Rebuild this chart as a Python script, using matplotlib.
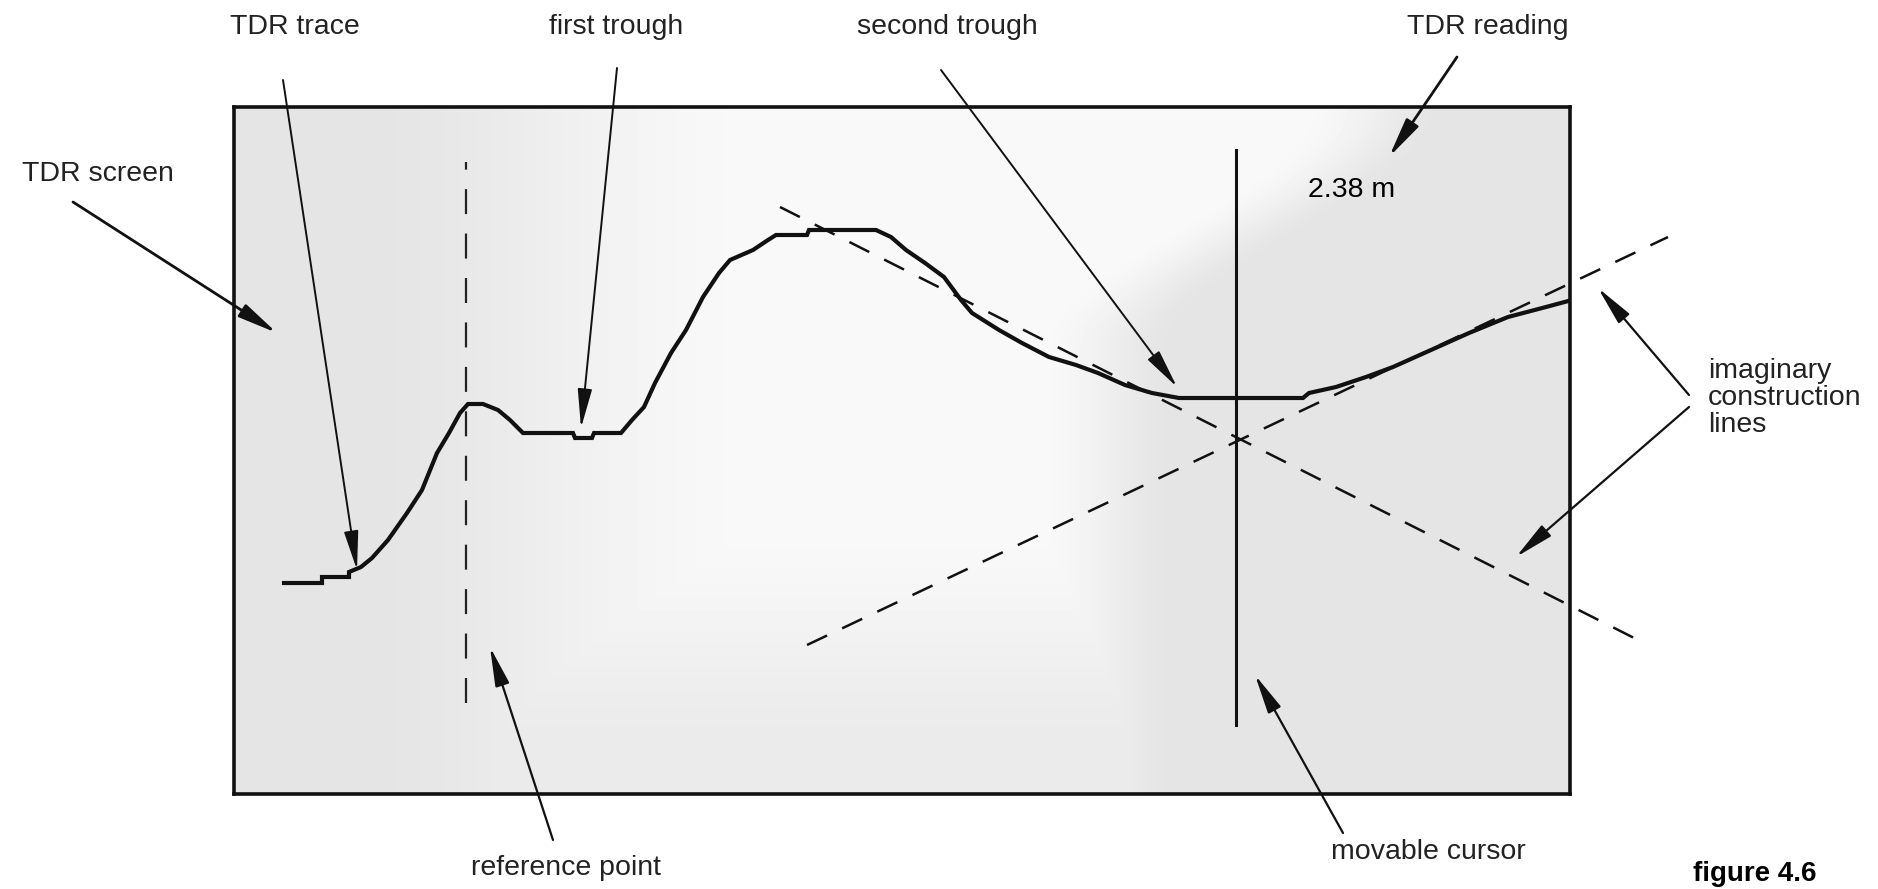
import numpy as np
import matplotlib
matplotlib.use("Agg")
import matplotlib.pyplot as plt

plt.rcParams["font.family"] = ["Liberation Sans", "DejaVu Sans"]
plt.rcParams["lines.scale_dashes"] = False

# TDR trace, in screen dots (x from left edge, y from bottom edge)
trace_x = [50, 88, 88, 115, 115, 127, 138, 154, 173, 188, 203, 215, 226, 234, 249,
           264, 276, 289, 339, 341, 358, 360, 387, 398, 410, 421, 437, 452, 469, 485,
           496, 519, 534, 542, 573, 575, 642, 657, 672, 691, 710, 727, 738, 765, 788,
           815, 842, 864, 891, 918, 945, 1069, 1075, 1102, 1132, 1159, 1197, 1235,
           1274, 1312, 1338]
trace_y = [211, 211, 217, 217, 222, 227, 236, 254, 281, 304, 341, 361, 381, 390, 390,
           384, 374, 361, 361, 356, 356, 361, 361, 374, 387, 411, 441, 464, 497, 521,
           534, 544, 554, 559, 559, 564, 564, 557, 544, 531, 517, 494, 481, 464, 451,
           437, 429, 421, 409, 401, 396, 396, 401, 407, 417, 427, 444, 461,
           477, 487, 494]

screen_w, screen_h = 1336, 687
ref_x = 232
ref_span = [91, 632]
cursor_x = 1002
cursor_span = [69, 644]
falling_line = ([546, 1414], [587, 149])
rising_line = ([573, 1434], [149, 557])
reading = "2.38 m"

# labels: text, text position, arrow tail, arrow head, shaft width (figure pixels)
labels = [
    ("TDR trace", (295, 27), (283, 80), (357, 570), 1.4),
    ("first trough", (616, 27), (617, 68), (581, 428), 1.4),
    ("second trough", (947, 27), (941, 70), (1177, 387), 1.4),
    ("TDR reading", (1488, 27), (1457, 57), (1389, 157), 2.0),
    ("TDR screen", (98, 174), (73, 202), (277, 333), 2.0),
    ("reference point", (566, 868), (553, 840), (490, 647), 1.6),
    ("movable cursor", (1428, 852), (1343, 833), (1255, 675), 1.6),
]
construction_label = "imaginary\nconstruction\nlines"
construction_arrows = [((1689, 395), (1598, 288)), ((1689, 407), (1516, 557))]

W, H = 1878, 889
fig = plt.figure(figsize=(W / 100, H / 100), dpi=100)

# the TDR screen
scr = fig.add_axes([234 / W, (H - 794) / H, screen_w / W, screen_h / H])
gx = np.linspace(0, 1, 400)
gy = np.linspace(0, 1, 200)
X, Y = np.meshgrid(gx, gy)


def ramp(v, a, b):
    t = np.clip((v - a) / (b - a), 0, 1)
    return t * t * (3 - 2 * t)


edge = 0.66 + 0.2 * ramp(Y, 0.65, 1.0)
left_dark = 1 - ramp(X, 0.08, 0.4)
right_dark = ramp(X, edge - 0.06, edge + 0.05)
bottom_dark = 1 - ramp(Y, 0.05, 0.4)
dark = np.maximum.reduce([left_dark, right_dark, 0.7 * bottom_dark])
shade = 0.975 - 0.08 * dark
scr.imshow(shade, cmap="gray", vmin=0, vmax=1, origin="lower", aspect="auto",
           extent=[0, screen_w, 0, screen_h], interpolation="bilinear", zorder=0)
scr.set_xlim(0, screen_w)
scr.set_ylim(0, screen_h)
scr.set_xticks([])
scr.set_yticks([])
for sp in scr.spines.values():
    sp.set_linewidth(2.6)
    sp.set_color("#111111")

scr.plot(trace_x, trace_y, color="#111111", lw=3.0, solid_joinstyle="miter", zorder=5)
scr.plot([ref_x, ref_x], ref_span, color="#222222", lw=1.6,
         linestyle=(0, (18, 14)), zorder=4)
scr.plot([cursor_x, cursor_x], cursor_span, color="#111111", lw=2.2, zorder=4)
for xs, ys in (falling_line, rising_line):
    scr.plot(xs, ys, color="#111111", lw=1.8, linestyle=(0, (16, 12)),
             clip_on=False, zorder=4)

# annotation layer in figure pixels
ov = fig.add_axes([0, 0, 1, 1], facecolor="none")
ov.set_xlim(0, W)
ov.set_ylim(H, 0)
ov.axis("off")


def arrow_props(lw):
    return dict(arrowstyle="-|>,head_length=1.2,head_width=0.22", color="#111111",
                lw=lw, shrinkA=0, shrinkB=0, mutation_scale=20)


for text, pos, tail, head, lw in labels:
    ov.text(pos[0], pos[1], text, fontsize=20.5, ha="center", va="center", color="#222222")
    ov.annotate("", xy=head, xytext=tail, arrowprops=arrow_props(lw))

ov.text(1708, 398, construction_label, fontsize=20.5, ha="left", va="center",
        linespacing=1.05, color="#222222")
for tail, head in construction_arrows:
    ov.annotate("", xy=head, xytext=tail, arrowprops=arrow_props(1.6))

ov.text(1352, 190, reading, fontsize=20.5, ha="center", va="center", color="#000000")
ov.text(1755, 887, "figure 4.6", fontsize=20, fontweight="bold", ha="center", va="bottom")

fig.savefig("out.png", dpi=100)
